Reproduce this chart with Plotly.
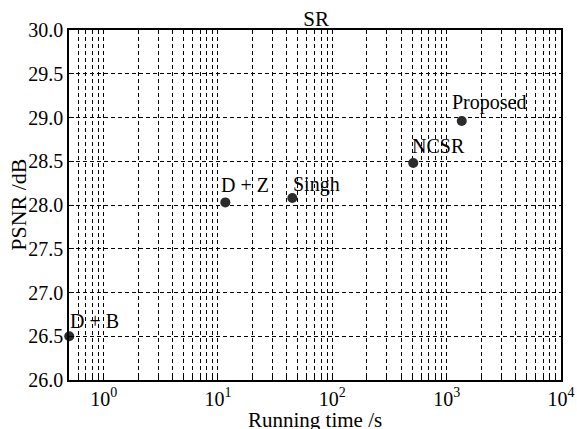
import math
import plotly.graph_objects as go

methods = ["D + B", "D + Z", "Singh", "NCSR", "Proposed"]
run_time = [0.5, 11.6, 44.7, 510, 1355]
psnr = [26.50, 28.03, 28.08, 28.48, 28.96]

x_tickvals = [1, 10, 100, 1000, 10000]
x_ticktext = ["10<sup>0</sup>", "10<sup>1</sup>", "10<sup>2</sup>", "10<sup>3</sup>", "10<sup>4</sup>"]
y_tickvals = [26.0, 26.5, 27.0, 27.5, 28.0, 28.5, 29.0, 29.5, 30.0]
y_ticktext = ["26.0", "26.5", "27.0", "27.5", "28.0", "28.5", "29.0", "29.5", "30.0"]

minor_vals = [m * 10 ** e for e in range(-1, 4) for m in range(2, 10)]

# label placement offsets in pixels (layout only)
label_xshift = [-1.5, -6.5, -1.5, -3.5, -11.5]
label_yshift = [2, 4, 0, 4, 5]

FONT = "Liberation Serif, Times New Roman, serif"
FS = 20
DASH = "4px,3px"

fig = go.Figure()
fig.add_trace(go.Scatter(
    x=run_time, y=psnr, mode="markers",
    marker=dict(size=10, color="#2b2b2b"),
    cliponaxis=False, showlegend=False,
))

for m, x, y, dx, dy in zip(methods, run_time, psnr, label_xshift, label_yshift):
    fig.add_annotation(x=math.log10(x), y=y, xref="x", yref="y", text=m, showarrow=False,
                       xanchor="left", yanchor="bottom", xshift=dx, yshift=dy,
                       font=dict(family=FONT, size=FS, color="black"))

# axis titles
fig.add_annotation(text="Running time /s", xref="paper", yref="paper",
                   x=0.5, y=-0.113, xanchor="center", yanchor="middle", showarrow=False,
                   font=dict(family=FONT, size=21, color="black"))
fig.add_annotation(text="PSNR /dB", xref="paper", yref="paper", textangle=-90,
                   x=-0.104, y=0.5, xanchor="center", yanchor="middle", showarrow=False,
                   font=dict(family=FONT, size=22, color="black"))

fig.update_layout(
    width=577, height=429,
    margin=dict(l=69, r=16, t=30, b=49, autoexpand=False),
    paper_bgcolor="white", plot_bgcolor="white",
    font=dict(family=FONT, size=FS, color="black"),
    title=dict(text="SR", x=0.548, xanchor="center", y=0.956, yanchor="middle",
               font=dict(family=FONT, size=21)),
)
fig.update_xaxes(
    type="log", range=[-0.303, 4], automargin=False,
    tickmode="array", tickvals=x_tickvals, ticktext=x_ticktext,
    showline=True, linecolor="black", linewidth=1.5, mirror=True,
    ticks="inside", ticklen=5, tickcolor="black", ticklabeloverflow="allow",
    showgrid=True, gridcolor="black", gridwidth=1, griddash=DASH,
    minor=dict(tickvals=minor_vals, ticks="inside", ticklen=3, tickcolor="black",
               showgrid=True, gridcolor="black", gridwidth=1, griddash=DASH),
    tickfont=dict(family=FONT, size=FS),
    zeroline=False,
)
fig.update_yaxes(
    range=[26, 30], automargin=False,
    tickmode="array", tickvals=y_tickvals, ticktext=y_ticktext,
    showline=True, linecolor="black", linewidth=1.5, mirror=True,
    ticks="inside", ticklen=5, tickcolor="black",
    showgrid=True, gridcolor="black", gridwidth=1, griddash=DASH,
    tickfont=dict(family=FONT, size=FS),
    zeroline=False,
)

fig.write_html(
    "out.html",
    config={"displayModeBar": False},
    post_script="document.body.style.margin='0';document.body.style.overflow='hidden';",
)
